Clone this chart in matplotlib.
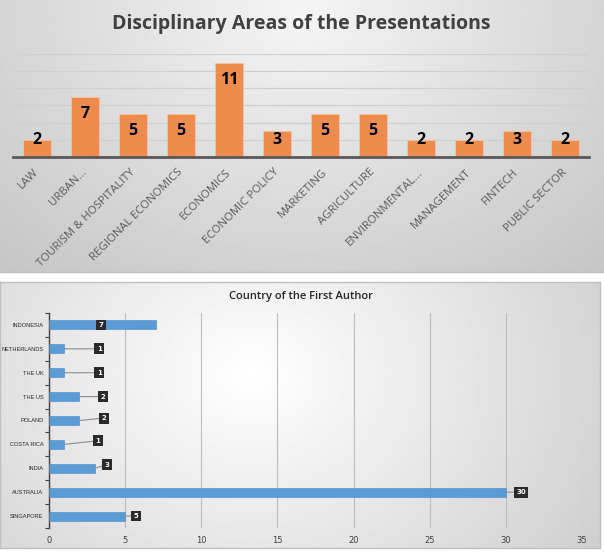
import matplotlib.pyplot as plt
import numpy as np

# data
areas = ["LAW", "URBAN...", "TOURISM & HOSPITALITY", "REGIONAL ECONOMICS", "ECONOMICS",
         "ECONOMIC POLICY", "MARKETING", "AGRICULTURE", "ENVIRONMENTAL...", "MANAGEMENT",
         "FINTECH", "PUBLIC SECTOR"]
area_counts = [2, 7, 5, 5, 11, 3, 5, 5, 2, 2, 3, 2]

countries = ["INDONESIA", "NETHERLANDS", "THE UK", "THE US", "POLAND",
             "COSTA RICA", "INDIA", "AUSTRALIA", "SINGAPORE"]
country_counts = [7, 1, 1, 2, 2, 1, 3, 30, 5]

# where the excel callouts sit (x in data units, y shift in categories)
callout_x = [3.4, 3.3, 3.3, 3.55, 3.6, 3.2, 3.8, 31.0, 5.7]
callout_dy = [0, 0, 0, 0, 0.1, 0.15, 0.15, 0, 0]

W, H = 604, 552
fig = plt.figure(figsize=(W / 100, H / 100), dpi=100)
fig.patch.set_facecolor("white")


def gradient_panel(rect, cx, cy, lo, hi, sx, sy):
    ax = fig.add_axes(rect)
    ny, nx = 200, 300
    xx, yy = np.meshgrid(np.linspace(0, 1, nx), np.linspace(0, 1, ny))
    r = np.sqrt(((xx - cx) / sx) ** 2 + ((yy - cy) / sy) ** 2)
    r = np.clip(r, 0, 1)
    img = hi - (hi - lo) * r
    ax.imshow(img, cmap="gray", vmin=0, vmax=1, aspect="auto", extent=(0, 1, 1, 0))
    ax.set_xlim(0, 1)
    ax.set_ylim(1, 0)
    ax.set_xticks([])
    ax.set_yticks([])
    for s in ax.spines.values():
        s.set_color("#bfbfbf")
        s.set_linewidth(1)
    return ax


def px(l, t, r, b):
    return [l / W, 1 - b / H, (r - l) / W, (b - t) / H]


# panel backgrounds
gradient_panel(px(-2, -2, 606, 272), 0.5, 0.05, 0.77, 0.96, 0.75, 1.3)
gradient_panel(px(0, 282, 600, 548), 0.42, 0.35, 0.79, 1.0, 0.75, 1.4)

# ---- top chart ----
ax1 = fig.add_axes(px(13.3, 54.3, 589, 156.7))
ax1.set_facecolor("none")
xs = np.arange(len(areas))
ax1.bar(xs, area_counts, width=0.58, color="#EE8C4E", edgecolor="#F6C3A0", linewidth=0.6, zorder=3)
ax1.set_xlim(-0.5, len(areas) - 0.5)
ax1.set_ylim(0, 12)
ax1.set_yticks(range(2, 13, 2))
ax1.yaxis.grid(True, color="#cfcfcf", linewidth=0.9, zorder=0)
ax1.tick_params(axis="y", left=False, labelleft=False)
for s in ["top", "right", "left"]:
    ax1.spines[s].set_visible(False)
ax1.spines["bottom"].set_color("#595959")
ax1.spines["bottom"].set_linewidth(2)
ax1.spines["bottom"].set_zorder(4)
ax1.set_xticks(xs)
ax1.set_xticklabels(areas, rotation=45, ha="right", va="center", rotation_mode="anchor",
                    fontsize=8.2, color="#595959", family="Open Sans")
ax1.tick_params(axis="x", length=0, pad=10)
for x, v in zip(xs, area_counts):
    ax1.text(x, max(v - 2, 1.95), str(v), ha="center", va="center",
             fontsize=11.5, fontweight="bold", color="black", family="Open Sans", zorder=5)
fig.text(301 / W, 1 - 24 / H, "Disciplinary Areas of the Presentations", ha="center", va="center",
         fontsize=14, fontweight="bold", color="#404040", family="Open Sans")

# ---- bottom chart ----
ax2 = fig.add_axes(px(49, 313, 582, 528))
ax2.set_facecolor("none")
ys = np.arange(len(countries))
ax2.barh(ys, country_counts, height=0.38, color="#5B9BD5", edgecolor="#4A88C2", linewidth=0.4, zorder=3)
ax2.set_ylim(len(countries) - 0.5, -0.5)
ax2.set_xlim(0, 35)
ax2.set_xticks(range(0, 36, 5))
ax2.xaxis.grid(True, color="#bdbdbd", linewidth=0.8, zorder=0)
ax2.set_yticks(ys)
ax2.set_yticklabels(countries, fontsize=4.1, color="#262626", family="Liberation Sans")
ax2.tick_params(axis="y", length=0, pad=4)
ax2.set_yticks(np.arange(-0.5, len(countries)), minor=True)
ax2.tick_params(axis="y", which="minor", length=3, width=0.8, color="#404040")
ax2.tick_params(axis="x", length=0, labelsize=6, labelcolor="#404040", pad=6)
for s in ["top", "right", "bottom"]:
    ax2.spines[s].set_visible(False)
ax2.spines["left"].set_color("#404040")
ax2.spines["left"].set_linewidth(1)
for y, v, lx, dy in zip(ys, country_counts, callout_x, callout_dy):
    box = dict(boxstyle="square,pad=0.35", fc="#2b2b2b", ec="none")
    if lx < v:
        ax2.text(lx, y, str(v), ha="center", va="center", fontsize=5, fontweight="bold",
                 color="white", bbox=box, zorder=6)
    else:
        ax2.annotate(str(v), xy=(v, y), xytext=(lx, y - dy), ha="center", va="center",
                     fontsize=5, fontweight="bold", color="white", bbox=box, zorder=6,
                     arrowprops=dict(arrowstyle="-", color="#8c8c8c", lw=0.8,
                                     shrinkA=0, shrinkB=0))
fig.text(301 / W, 1 - 297 / H, "Country of the First Author", ha="center", va="center",
         fontsize=8, fontweight="semibold", color="#262626", family="Open Sans")

fig.savefig("out.png", dpi=100)
